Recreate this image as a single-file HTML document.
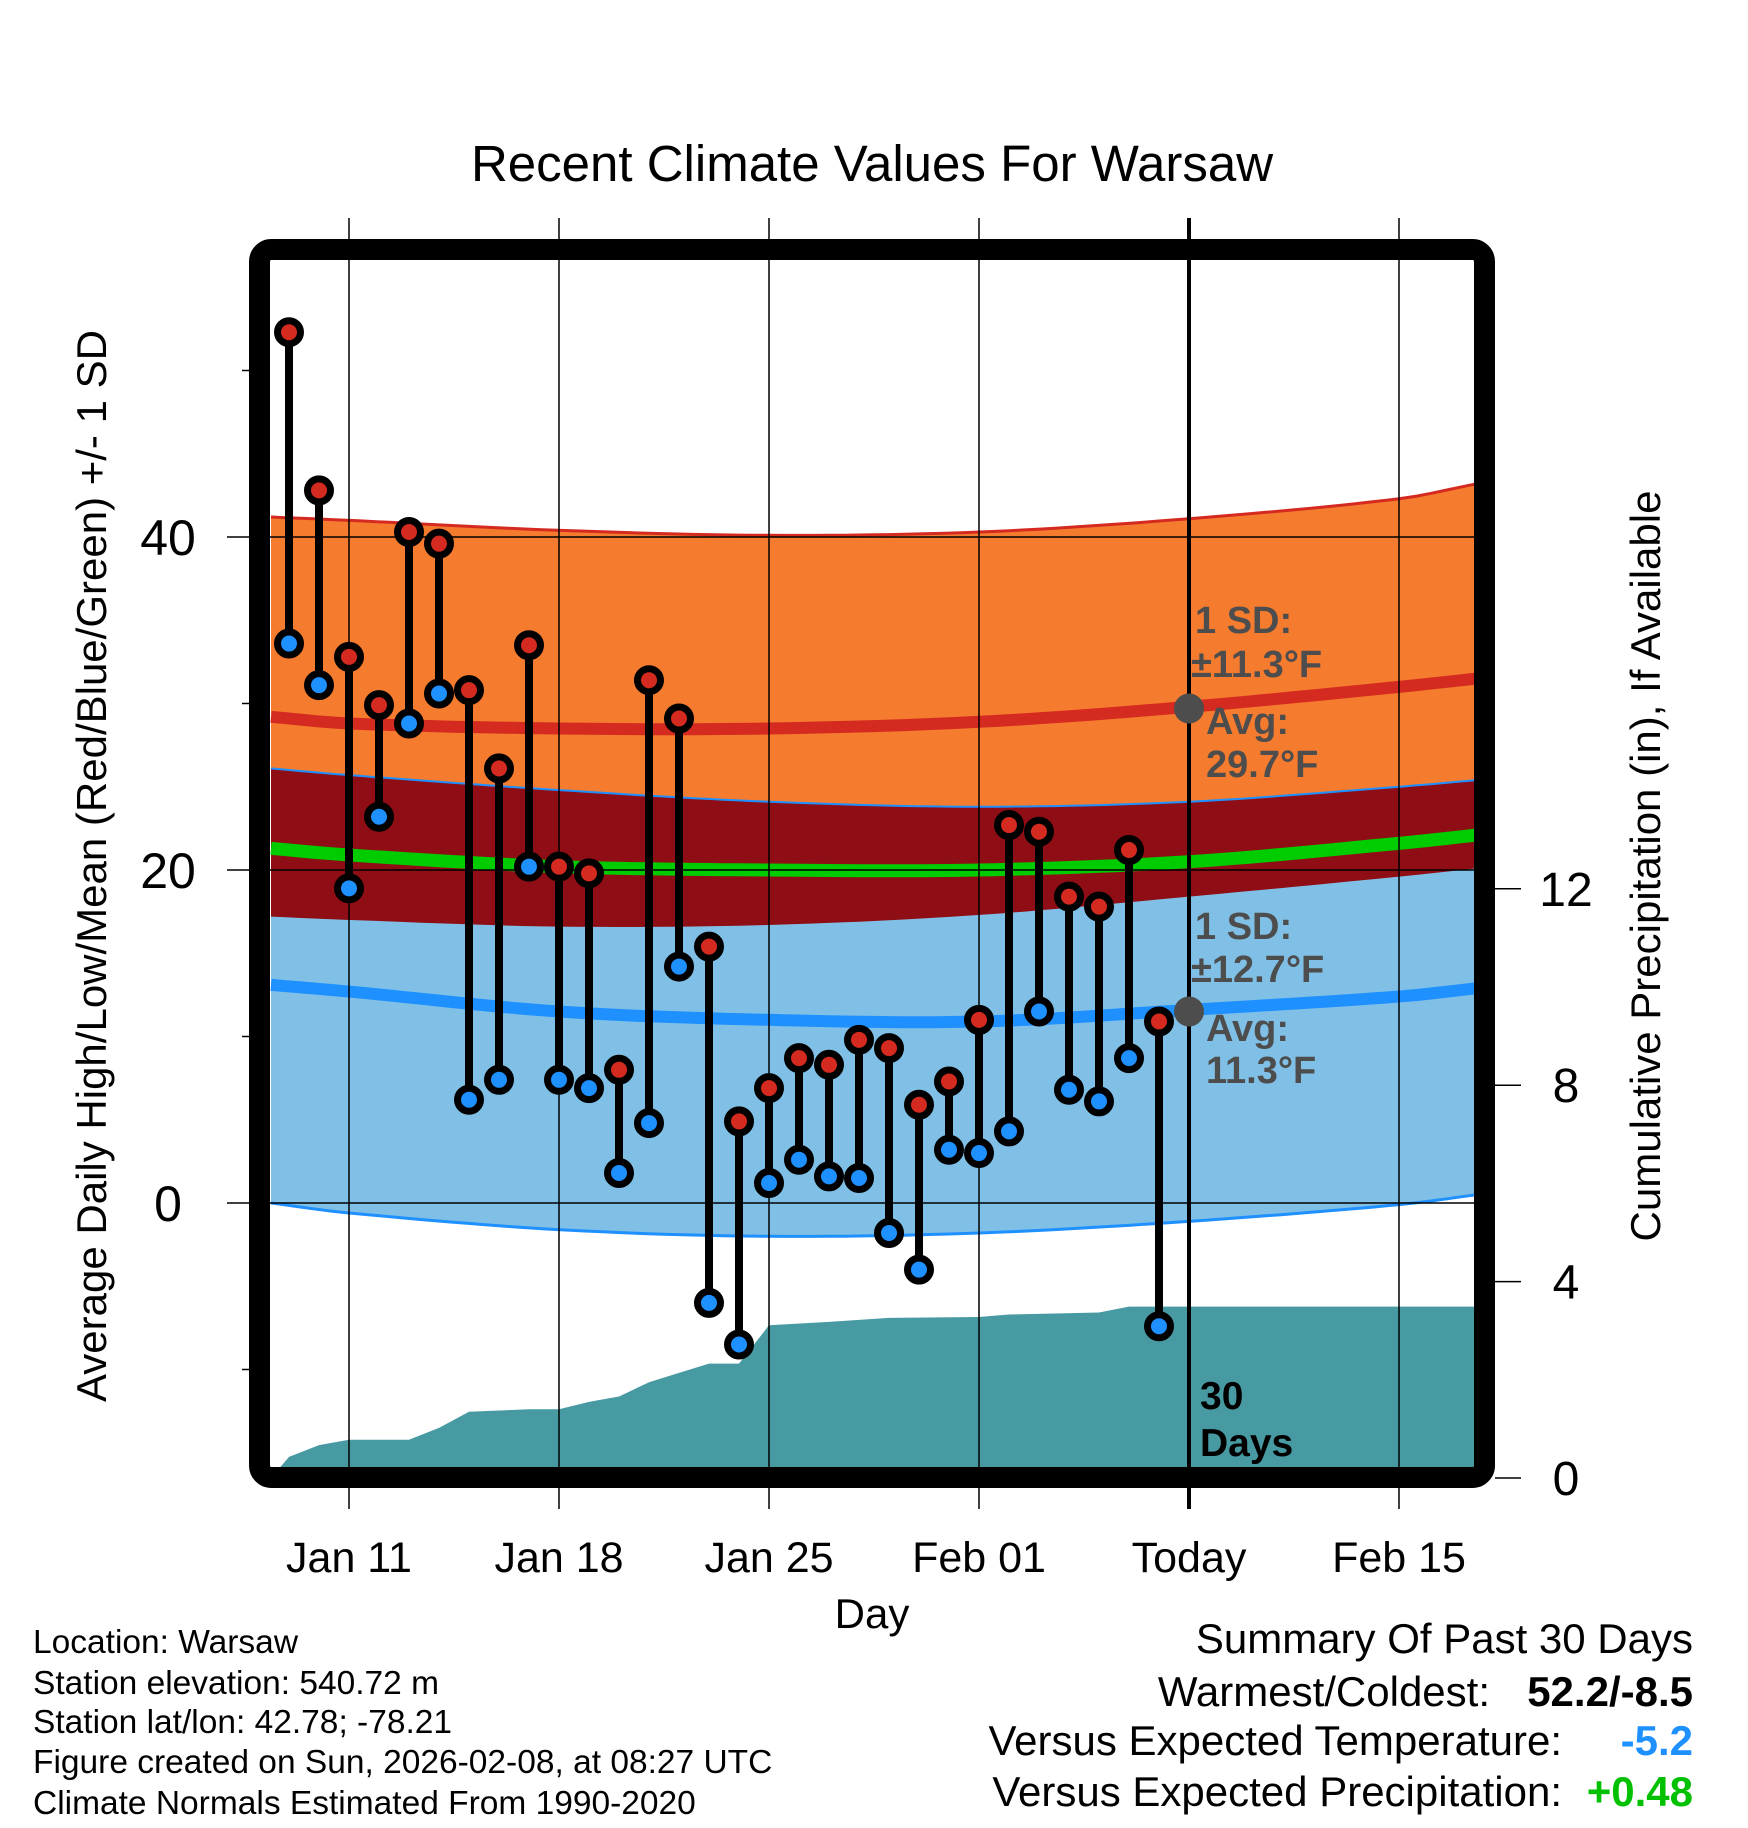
<!DOCTYPE html>
<html><head><meta charset="utf-8">
<style>
html,body{margin:0;padding:0;background:#fff;}
svg{display:block;font-family:"Liberation Sans",Arial,sans-serif;}
</style></head>
<body>
<svg id="chart" width="1748" height="1828" viewBox="0 0 1748 1828" xmlns="http://www.w3.org/2000/svg">
<rect width="1748" height="1828" fill="#fff"/>
<text x="872" y="181" font-size="51" text-anchor="middle">Recent Climate Values For Warsaw</text>
<g id="plot"></g>
<text transform="translate(106,866) rotate(-90)" font-size="42" text-anchor="middle">Average Daily High/Low/Mean (Red/Blue/Green) +/- 1 SD</text>
<text transform="translate(1660,866) rotate(-90)" font-size="42" text-anchor="middle">Cumulative Precipitation (in), If Available</text>
<text x="872" y="1628" font-size="42" text-anchor="middle">Day</text>
<g font-size="33.5">
<text x="33" y="1653">Location: Warsaw</text>
<text x="33" y="1694">Station elevation: 540.72 m</text>
<text x="33" y="1733">Station lat/lon: 42.78; -78.21</text>
<text x="33" y="1773">Figure created on Sun, 2026-02-08, at 08:27 UTC</text>
<text x="33" y="1814">Climate Normals Estimated From 1990-2020</text>
</g>
<g font-size="42">
<text x="1693" y="1653" text-anchor="end">Summary Of Past 30 Days</text>
<text x="1490" y="1706" text-anchor="end">Warmest/Coldest:</text>
<text x="1693" y="1706" text-anchor="end" font-weight="bold">52.2/-8.5</text>
<text x="1562" y="1755" text-anchor="end">Versus Expected Temperature:</text>
<text x="1693" y="1755" text-anchor="end" font-weight="bold" fill="#1e90ff">-5.2</text>
<text x="1562" y="1806" text-anchor="end">Versus Expected Precipitation:</text>
<text x="1693" y="1806" text-anchor="end" font-weight="bold" fill="#00c000">+0.48</text>
</g>
</svg>
<script>
// day offsets relative to Jan 11
const normDays = [-2.6, 0, 7, 14, 21, 28, 35, 37.6];
const highAvg = [29.2, 28.8, 28.5, 28.5, 28.9, 29.8, 31.0, 31.5];
const highUpper = [41.2, 41.0, 40.4, 40.1, 40.3, 41.1, 42.3, 43.2];
const highLower = [17.2, 17.0, 16.6, 16.7, 17.3, 18.4, 19.6, 20.1];
const lowAvg = [13.1, 12.7, 11.5, 11.0, 10.9, 11.6, 12.4, 12.9];
const lowUpper = [26.1, 25.7, 24.8, 24.1, 23.8, 24.1, 25.0, 25.4];
const lowLower = [0.0, -0.6, -1.6, -2.0, -1.8, -1.1, -0.1, 0.5];
const meanAvg = [21.3, 20.9, 20.2, 20.0, 20.0, 20.5, 21.6, 22.1];
const obsDayStart = -2; // Jan 9
const highs = [52.3,42.8,32.8,29.9,40.3,39.6,30.8,26.1,33.5,20.2,19.8,8.0,31.4,29.1,15.4,4.9,6.9,8.7,8.3,9.8,9.3,5.9,7.3,11.0,22.7,22.3,18.4,17.8,21.2,10.9];
const lows = [33.6,31.1,18.9,23.2,28.8,30.6,6.2,7.4,20.2,7.4,6.9,1.8,4.8,14.2,-6.0,-8.5,1.2,2.6,1.6,1.5,-1.8,-4.0,3.2,3.0,4.3,11.5,6.8,6.1,8.7,-7.4];
const precipDays = [-2.6,-2,-1,0,2,3,4,6,7,8,9,10,11,12,13,14,16,18,21,22,25,26,37.6];
const precipCum = [0,0.43,0.67,0.78,0.78,1.02,1.35,1.4,1.4,1.55,1.66,1.95,2.14,2.33,2.33,3.11,3.18,3.26,3.28,3.33,3.37,3.49,3.49];
const xTickDays = [0,7,14,21,28,35];
const xTickLabels = ["Jan 11","Jan 18","Jan 25","Feb 01","Today","Feb 15"];
const yTicks = [0,20,40];
const yMinor = [-10,10,30,50];
const pTicks = [0,4,8,12];

const NS="http://www.w3.org/2000/svg";
const X = d => 349 + 30*d;
const Y = t => 1203 - 16.65*t;
const P = p => 1478 - 49.1*p;
const L = 270, R = 1478, T = 260, B = 1467;
const g = document.getElementById('plot');
function mk(tag, attrs, parent){const e=document.createElementNS(NS,tag);for(const k in attrs)e.setAttribute(k,attrs[k]);(parent||g).appendChild(e);return e;}
// smooth interpolation (Catmull-Rom style via cubic Hermite) for drawing only
function interp(arr, d){
  let i=0; while(i<normDays.length-2 && d>normDays[i+1]) i++;
  const x0=normDays[i], x1=normDays[i+1], t=(d-x0)/(x1-x0);
  const m=(k)=>{const a=Math.max(0,k-1), b=Math.min(normDays.length-1,k+1);return (arr[b]-arr[a])/(normDays[b]-normDays[a]);};
  const h=x1-x0, t2=t*t, t3=t2*t;
  return (2*t3-3*t2+1)*arr[i]+(t3-2*t2+t)*h*m(i)+(-2*t3+3*t2)*arr[i+1]+(t3-t2)*h*m(i+1);
}
function pts(arr){const out=[];const d0=normDays[0],d1=normDays[normDays.length-1];
  for(let k=0;k<=80;k++){const d=d0+(d1-d0)*k/80;out.push(X(d).toFixed(1)+','+Y(interp(arr,d)).toFixed(1));}return out;}
const clip = mk('clipPath',{id:'pc'}); mk('rect',{x:L,y:T,width:R-L,height:B-T},clip);
const pg = mk('g',{'clip-path':'url(#pc)'});
function band2(up, lo, fill, name){const p=pts(up).concat(pts(lo).reverse());const e=mk('polygon',{points:p.join(' '),fill:fill},pg);

}
function line2(arr, stroke, w, name){const e=mk('polyline',{points:pts(arr).join(' '),fill:'none',stroke:stroke,'stroke-width':w},pg);

}
band2(highUpper, highLower, '#f57b2e', 'high-sd-band');
band2(lowUpper, lowLower, '#80c0e6', 'low-sd-band');
band2(lowUpper, highLower, '#8f0d14', 'overlap-band');
line2(highUpper, '#d42a20', 3, 'high-upper-edge');
line2(lowUpper, '#1e90ff', 2, 'low-upper-edge');
line2(lowLower, '#1e90ff', 3, 'low-lower-edge');
line2(highAvg, '#d42a20', 12, 'high-avg-line');
line2(meanAvg, '#00cc00', 13, 'mean-avg-line');
line2(lowAvg, '#1e90ff', 12, 'low-avg-line');
// precip
const pp = precipDays.map((d,i)=>X(d).toFixed(1)+','+P(precipCum[i]).toFixed(1));
pp.push(X(precipDays[precipDays.length-1])+','+B); pp.push(X(precipDays[0])+','+B);
const pe = mk('polygon',{points:pp.join(' '),fill:'#4799a2'},pg);


// gridlines
xTickDays.forEach((d,i)=>{
  const gl = mk('line',{x1:X(d),x2:X(d),y1:218,y2:1509,stroke:'#000','stroke-width':i==4?4:1.5});
  
  
  const tl = mk('text',{x:X(d),y:1572,'font-size':43,'text-anchor':'middle'}); tl.textContent = xTickLabels[i];
  
  
});
yTicks.forEach(t=>{
  const gl = mk('line',{x1:227,x2:R,y1:Y(t),y2:Y(t),stroke:'#000','stroke-width':1.5});
  
  
  const tl = mk('text',{x:168,y:Y(t)+18,'font-size':50,'text-anchor':'middle'}); tl.textContent = t;
  
  
});
yMinor.forEach(t=>{
  const tk = mk('line',{x1:242,x2:252,y1:Y(t),y2:Y(t),stroke:'#000','stroke-width':1.5});
  
  
});
pTicks.forEach(p=>{
  const tk = mk('line',{x1:1495,x2:1521,y1:P(p),y2:P(p),stroke:'#000','stroke-width':1.5});
  
  
  const tl = mk('text',{x:1566,y:P(p)+17,'font-size':48,'text-anchor':'middle'}); tl.textContent = p;
  
  
});
// observations
highs.forEach((h,i)=>{
  const x = X(obsDayStart+i);
  const s = mk('line',{x1:x,x2:x,y1:Y(h),y2:Y(lows[i]),stroke:'#000','stroke-width':8});
  
  
  const c1 = mk('circle',{cx:x,cy:Y(h),r:11.5,fill:'#d42a20',stroke:'#000','stroke-width':7});
  
  
  const c2 = mk('circle',{cx:x,cy:Y(lows[i]),r:11.5,fill:'#1e90ff',stroke:'#000','stroke-width':7});
  
  
});
// today markers
const todayIdx = 5;
[highAvg[todayIdx], lowAvg[todayIdx]].forEach(v=>{
  const c = mk('circle',{cx:X(28),cy:Y(v-0.1),r:15,fill:'#4d4d4d'});
  
  
});
// annotations
const ann = [["1 SD:",1195,633],["±11.3°F",1191,677],["Avg:",1206,734],["29.7°F",1206,777],
             ["1 SD:",1195,939],["±12.7°F",1191,982],["Avg:",1206,1041],["11.3°F",1206,1083]];
ann.forEach(a=>{
  const t = mk('text',{x:a[1],y:a[2],'font-size':38,'font-weight':'bold',fill:'#4d4d4d'}); t.textContent=a[0];
  
  
});
const d1 = mk('text',{x:1200,y:1409,'font-size':39,'font-weight':'bold'}); d1.textContent='30';


const d2 = mk('text',{x:1200,y:1456,'font-size':39,'font-weight':'bold'}); d2.textContent='Days';


// frame
const fr = mk('rect',{x:259.5,y:249.5,width:1225,height:1228,rx:12,fill:'none',stroke:'#000','stroke-width':21});


</script>
</body></html>
